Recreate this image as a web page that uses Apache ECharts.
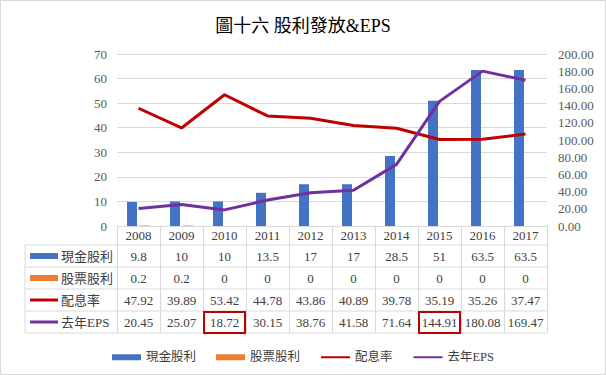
<!doctype html>
<html>
<head>
<meta charset="utf-8">
<title>圖十六 股利發放&EPS</title>
<script src="https://cdn.jsdelivr.net/npm/echarts@6/dist/echarts.min.js"></script>
<style>
    html,body{
        margin: 0;
        padding: 0;
        background: #fff;
    }
    #main{
        width: 606px;
        height: 375px;
    }
</style>
</head>
<body>
<div id="main"></div>
<script>
    // 資料
    var years = ['2008','2009','2010','2011','2012','2013','2014','2015','2016','2017'];
    var cashDiv = [9.8, 10, 10, 13.5, 17, 17, 28.5, 51, 63.5, 63.5];
    var stockDiv = [0.2, 0.2, 0, 0, 0, 0, 0, 0, 0, 0];
    var payoutRatio = [47.92, 39.89, 53.42, 44.78, 43.86, 40.89, 39.78, 35.19, 35.26, 37.47];
    var lastEps = [20.45, 25.07, 18.72, 30.15, 38.76, 41.58, 71.64, 144.91, 180.08, 169.47];
    var seriesNames = ['現金股利', '股票股利', '配息率', '去年EPS'];
    var markedYears = ['2010', '2015'];   // 表格中紅框標示的 EPS

    var colors = ['#4472C4', '#ED7D31', '#C00000', '#7030A0'];
    var serifFont = '"Liberation Serif", "Noto Sans CJK TC", serif';
    var gridLine = '#d9d9d9';
    var textColor = '#404040';

    var chart = echarts.init(document.getElementById('main'), null, {renderer: 'svg'});

    // 表格左側的圖例欄
    var rowY = [256, 278, 300, 322];
    var tableLines = [];
    [245, 267, 289, 311, 333].forEach(function(y){
        tableLines.push({type: 'line', silent: true, shape: {x1: 25, y1: y, x2: 547, y2: y}, style: {stroke: gridLine, lineWidth: 1}});
    });
    tableLines.push({type: 'line', silent: true, shape: {x1: 25, y1: 245, x2: 25, y2: 333}, style: {stroke: gridLine, lineWidth: 1}});

    var rowKeys = [];
    seriesNames.forEach(function(name, i){
        if(i < 2){
            rowKeys.push({type: 'rect', silent: true, shape: {x: 30, y: rowY[i] - 3, width: 28, height: 6}, style: {fill: colors[i]}});
        }else{
            rowKeys.push({type: 'line', silent: true, shape: {x1: 30, y1: rowY[i], x2: 58, y2: rowY[i]}, style: {stroke: colors[i], lineWidth: 3}});
        }
        rowKeys.push({type: 'text', silent: true, x: 61, y: rowY[i], style: {text: name, fill: textColor, font: '13px ' + serifFont, verticalAlign: 'middle'}});
    });

    var option = {
        animation: false,
        color: colors,
        title: {
            text: '圖十六 股利發放&EPS',
            left: 'center',
            top: 12,
            textStyle: {fontFamily: serifFont, fontSize: 18, fontWeight: 'normal', color: '#000'}
        },
        legend: {
            data: [
                {name: seriesNames[0], icon: 'rect'},
                {name: seriesNames[1], icon: 'rect'},
                {name: seriesNames[2], itemStyle: {opacity: 0}},
                {name: seriesNames[3], itemStyle: {opacity: 0}}
            ],
            left: 'center',
            top: 346,
            itemWidth: 29,
            itemHeight: 6,
            itemGap: 20,
            textStyle: {fontFamily: serifFont, fontSize: 12.5, color: textColor}
        },
        grid: {left: 117, right: 59, top: 54, bottom: 149},
        xAxis: {
            type: 'category',
            data: years,
            axisLine: {lineStyle: {color: gridLine}},
            axisTick: {show: true, length: 107, interval: 0, lineStyle: {color: gridLine}},
            axisLabel: {
                interval: 0,
                margin: 0,
                color: textColor,
                fontFamily: serifFont,
                formatter: function(value, idx){
                    return '{y|' + value + '}\n{v|' + cashDiv[idx] + '}\n{v|' + stockDiv[idx] + '}\n{v|' +
                        payoutRatio[idx].toFixed(2) + '}\n{v|' + lastEps[idx].toFixed(2) + '}';
                },
                rich: {
                    y: {fontSize: 13, lineHeight: 19, fontFamily: serifFont, color: textColor},
                    v: {fontSize: 13, lineHeight: 22, fontFamily: serifFont, color: textColor}
                }
            }
        },
        yAxis: [{
            type: 'value',
            min: 0, max: 70, interval: 10,
            axisLine: {show: false},
            axisTick: {show: false},
            splitLine: {lineStyle: {color: gridLine}},
            axisLabel: {margin: 10, color: '#595959', fontSize: 13, fontFamily: serifFont}
        }, {
            type: 'value',
            min: 0, max: 200, interval: 20,
            axisLine: {show: false},
            axisTick: {show: false},
            splitLine: {show: false},
            axisLabel: {margin: 11, color: '#595959', fontSize: 13, fontFamily: serifFont,
                formatter: function(v){ return v.toFixed(2); }}
        }],
        series: [{
            name: seriesNames[0], type: 'bar', data: cashDiv,
            barWidth: 10, barGap: '30%', itemStyle: {color: colors[0]}
        }, {
            name: seriesNames[1], type: 'bar', data: stockDiv,
            barWidth: 10, barGap: '30%', itemStyle: {color: colors[1]}
        }, {
            name: seriesNames[2], type: 'line', data: payoutRatio, yAxisIndex: 0,
            symbol: 'none', lineStyle: {width: 3, color: colors[2]}, itemStyle: {color: colors[2]}, z: 3
        }, {
            name: seriesNames[3], type: 'line', data: lastEps, yAxisIndex: 1,
            symbol: 'none', lineStyle: {width: 3, color: colors[3]}, itemStyle: {color: colors[3]}, z: 4
        }],
        graphic: [{
            type: 'rect', silent: true, shape: {x: 0.5, y: 0.5, width: 605, height: 374},
            style: {fill: 'none', stroke: gridLine, lineWidth: 1}
        }].concat(tableLines, rowKeys)
    };

    chart.setOption(option);

    // 紅框:依類別位置計算
    var bandW = (606 - 117 - 59) / years.length;
    var boxes = markedYears.map(function(y){
        var cx = chart.convertToPixel({xAxisIndex: 0}, y);
        return {type: 'rect', silent: true, z: 10,
            shape: {x: cx - bandW / 2 + 1, y: 312, width: bandW - 2, height: 21},
            style: {fill: 'none', stroke: '#C00000', lineWidth: 2}};
    });
    chart.setOption({graphic: option.graphic.concat(boxes)});
</script>
</body>
</html>
